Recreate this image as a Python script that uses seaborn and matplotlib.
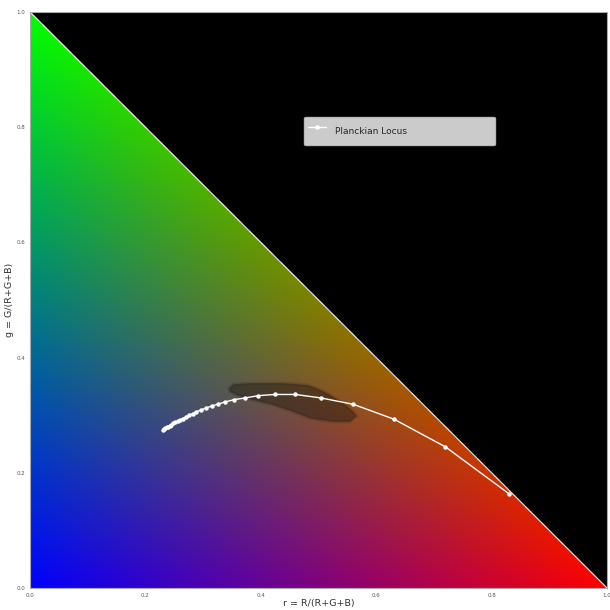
import numpy as np
import matplotlib
matplotlib.use("Agg")
import matplotlib.pyplot as plt
import seaborn as sns

# Planckian locus points (r, g)
locus_r = [0.831, 0.720, 0.631, 0.560, 0.504, 0.460, 0.425, 0.396, 0.373, 0.354,
           0.338, 0.325, 0.315, 0.305, 0.296, 0.2885, 0.2817, 0.2755, 0.2699, 0.2648,
           0.2601, 0.2558, 0.2519, 0.2483, 0.2450, 0.2420, 0.2392, 0.2366, 0.2342,
           0.2320, 0.2300]
locus_g = [0.163, 0.245, 0.293, 0.319, 0.330, 0.336, 0.336, 0.334, 0.330, 0.327,
           0.323, 0.319, 0.316, 0.3125, 0.309, 0.3060, 0.3027, 0.2996, 0.2968, 0.2941,
           0.2916, 0.2895, 0.2876, 0.2857, 0.2838, 0.2820, 0.2803, 0.2787, 0.2772,
           0.2759, 0.2747]

# outline of the dark point cloud
blob_r = [0.3454, 0.3523, 0.3813, 0.4390, 0.4796, 0.4969, 0.5199, 0.5430, 0.5603,
          0.5662, 0.5546, 0.5256, 0.4853, 0.4563, 0.4216, 0.3870, 0.3582, 0.3466]
blob_g = [0.3467, 0.3536, 0.3554, 0.3554, 0.3524, 0.3467, 0.3351, 0.3207, 0.3061,
          0.2986, 0.2887, 0.2887, 0.2946, 0.3061, 0.3177, 0.3264, 0.3351, 0.3408]

tick_vals = [0.0, 0.2, 0.4, 0.6, 0.8, 1.0]
tick_labels = ["0.0", "0.2", "0.4", "0.6", "0.8", "1.0"]

sns.set_style("white")
plt.rcParams['font.family'] = ['DejaVu Sans']

fig = plt.figure(figsize=(6.1, 6.1), dpi=100)
ax = fig.add_axes([30/610, 22/610, 577/610, 576/610])
ax.set_facecolor("black")

# chromaticity background
n = 600
rr, gg = np.meshgrid(np.linspace(0, 1, n), np.linspace(0, 1, n))
bb = 1 - rr - gg
img = np.dstack([rr, gg, np.clip(bb, 0, 1)])
img[bb < 0] = 0
ax.imshow(img, extent=[0, 1, 0, 1], origin="lower", interpolation="bilinear", aspect="auto", zorder=0)

# boundary diagonal
ax.plot([0, 1], [1, 0], color="white", lw=0.9, alpha=0.85, zorder=1)

# point cloud
ax.fill(blob_r, blob_g, color="#1a1410", alpha=0.15, lw=2.5, ec="#1a1410", zorder=2)
ax.fill(blob_r, blob_g, color="#1a1410", alpha=0.32, lw=0, zorder=2)

sns.lineplot(x=locus_r, y=locus_g, sort=False, ax=ax, color="white", lw=1.0,
             marker="o", markersize=3.2, markeredgewidth=0, label="Planckian Locus", zorder=3)

ax.set_xlim(0, 1)
ax.set_ylim(0, 1)
ax.set_xticks(tick_vals)
ax.set_xticklabels(tick_labels)
ax.set_yticks(tick_vals)
ax.set_yticklabels(tick_labels)
ax.tick_params(axis="both", labelsize=4.0, colors="#555555", length=2, width=0.5, pad=1.5)
for s in ax.spines.values():
    s.set_color("#aaaaaa")
    s.set_linewidth(0.8)

ax.set_xlabel("r = R/(R+G+B)", fontsize=6.8, color="#333333", labelpad=1.0)
ax.set_ylabel("g = G/(R+G+B)", fontsize=6.8, color="#333333", labelpad=2)

leg = ax.legend(loc="center", bbox_to_anchor=(0.475, 0.766, 0.331, 0.055), mode="expand",
                fontsize=6.5, handlelength=2.0, handletextpad=1.0, handleheight=3.3,
                borderpad=0.4, borderaxespad=0)

fig.savefig("out.png", dpi=100)
